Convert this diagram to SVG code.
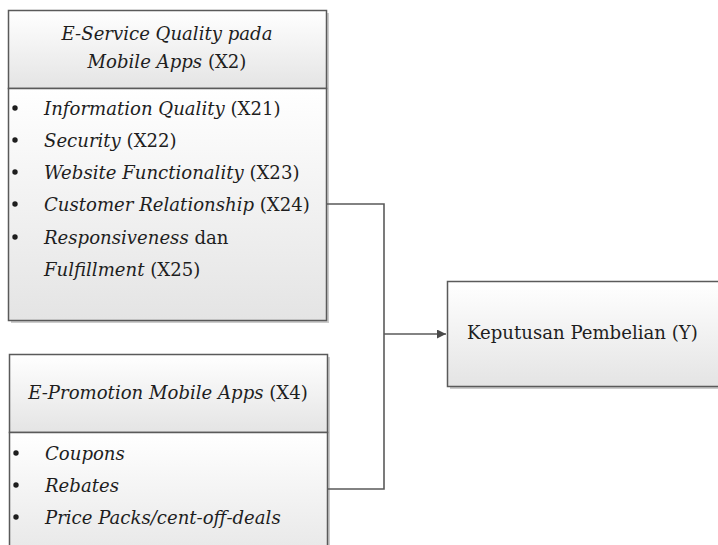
<svg xmlns="http://www.w3.org/2000/svg" width="718" height="545" viewBox="0 0 718 545">
<style>
.box{stroke:#5a5a5a;stroke-width:1.5}
.shadow{fill:#9a9a9a;opacity:0.5}
.t{font-family:"DejaVu Serif","Liberation Serif",serif;font-size:18.1px;fill:#1e1e1e}
.i{font-style:italic}
.c{text-anchor:middle}
.conn{fill:none;stroke:#5a5a5a;stroke-width:1.6}
.bul{fill:#1e1e1e}
</style>
<defs>
<linearGradient id="g" x1="0" y1="0" x2="0" y2="1">
<stop offset="0" stop-color="#ffffff"/>
<stop offset="1" stop-color="#e4e4e4"/>
</linearGradient>
<marker id="arr" viewBox="0 0 10 10" refX="10" refY="5" markerWidth="9" markerHeight="9" markerUnits="userSpaceOnUse" orient="auto">
<path d="M0,0 L10,5 L0,10 z" fill="#4a4a4a"/>
</marker>
</defs>

<g id="x2">
<rect class="shadow" x="11" y="13" width="318" height="310"/>
<rect x="8.5" y="10.5" width="318" height="78" fill="url(#g)" class="box"/>
<rect x="8.5" y="88.5" width="318" height="232" fill="url(#g)" class="box"/>
<text class="t i c" x="167" y="40">E-Service Quality pada</text>
<text class="t c" x="167" y="68"><tspan class="i">Mobile Apps</tspan> (X2)</text>
<circle class="bul" cx="15" cy="108" r="2.7"/>
<circle class="bul" cx="15" cy="140" r="2.7"/>
<circle class="bul" cx="15" cy="172" r="2.7"/>
<circle class="bul" cx="15" cy="204" r="2.7"/>
<circle class="bul" cx="15" cy="237" r="2.7"/>
<text class="t" x="44" y="115"><tspan class="i">Information Quality</tspan> (X21)</text>
<text class="t" x="44" y="147"><tspan class="i">Security</tspan> (X22)</text>
<text class="t" x="44" y="179"><tspan class="i">Website Functionality</tspan> (X23)</text>
<text class="t" x="44" y="211"><tspan class="i">Customer Relationship</tspan> (X24)</text>
<text class="t" x="44" y="244"><tspan class="i">Responsiveness</tspan> dan</text>
<text class="t" x="44" y="276"><tspan class="i">Fulfillment</tspan> (X25)</text>
</g>

<g id="x4">
<rect class="shadow" x="12" y="357" width="318" height="220"/>
<rect x="9.5" y="354.5" width="318" height="78" fill="url(#g)" class="box"/>
<rect x="9.5" y="432.5" width="318" height="140" fill="url(#g)" class="box"/>
<text class="t c" x="168" y="399"><tspan class="i">E-Promotion Mobile Apps</tspan> (X4)</text>
<circle class="bul" cx="16" cy="453" r="2.7"/>
<circle class="bul" cx="16" cy="485" r="2.7"/>
<circle class="bul" cx="16" cy="517" r="2.7"/>
<text class="t i" x="45" y="460">Coupons</text>
<text class="t i" x="45" y="492">Rebates</text>
<text class="t i" x="45" y="524">Price Packs/cent-off-deals</text>
</g>

<g id="y">
<rect class="shadow" x="450" y="284" width="290" height="105"/>
<rect x="447.5" y="281.5" width="290" height="105" fill="url(#g)" class="box"/>
<text class="t" x="467" y="339">Keputusan Pembelian (Y)</text>
</g>

<g id="connectors">
<path class="conn" d="M327,204 H384 V489 H328"/>
<path class="conn" d="M384,334 H446" marker-end="url(#arr)"/>
</g>
</svg>
